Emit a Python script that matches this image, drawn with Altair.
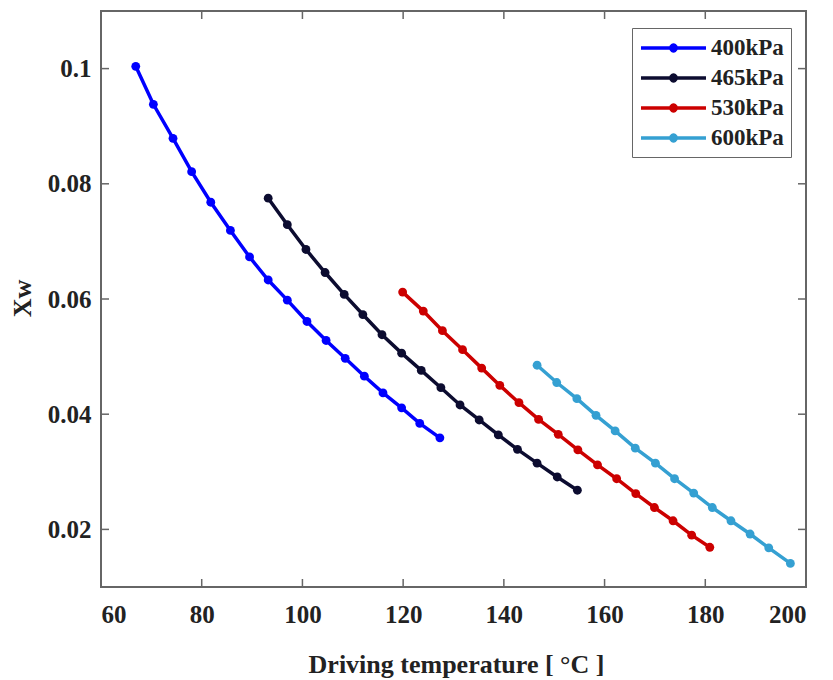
import altair as alt
import pandas as pd

# Driving temperature (°C) and Xw for each pressure level
t_400 = [66.9, 70.4, 74.3, 78.0, 81.8, 85.7, 89.5, 93.2, 97.0, 100.9, 104.7,
         108.5, 112.3, 116.0, 119.7, 123.3, 127.3]
x_400 = [0.1004, 0.0938, 0.0879, 0.0821, 0.0768, 0.0719, 0.0673, 0.0633, 0.0598,
         0.0561, 0.0528, 0.0497, 0.0466, 0.0437, 0.0411, 0.0384, 0.0359]

t_465 = [93.2, 97.0, 100.7, 104.5, 108.3, 112.0, 115.8, 119.7, 123.6, 127.5,
         131.3, 135.1, 138.9, 142.7, 146.6, 150.6, 154.6]
x_465 = [0.0775, 0.0729, 0.0686, 0.0646, 0.0608, 0.0573, 0.0538, 0.0506, 0.0476,
         0.0446, 0.0416, 0.0390, 0.0364, 0.0339, 0.0315, 0.0291, 0.0268]

t_530 = [119.9, 124.0, 127.8, 131.8, 135.6, 139.2, 143.0, 146.9, 150.8, 154.7,
         158.6, 162.4, 166.2, 169.9, 173.6, 177.3, 180.9]
x_530 = [0.0612, 0.0579, 0.0545, 0.0512, 0.0480, 0.0450, 0.0420, 0.0391, 0.0365,
         0.0338, 0.0312, 0.0288, 0.0262, 0.0238, 0.0215, 0.0190, 0.0169]

t_600 = [146.6, 150.5, 154.5, 158.3, 162.1, 166.1, 170.1, 173.9, 177.7, 181.4,
         185.1, 188.9, 192.6, 196.9]
x_600 = [0.0485, 0.0455, 0.0427, 0.0398, 0.0371, 0.0341, 0.0315, 0.0288, 0.0263,
         0.0238, 0.0215, 0.0192, 0.0168, 0.0141]

series_names = ["400kPa", "465kPa", "530kPa", "600kPa"]
series_colors = ["#0000ff", "#0c0c30", "#cc0000", "#35a0d2"]

x_ticks = [60, 80, 100, 120, 140, 160, 180, 200]
y_ticks = [0.02, 0.04, 0.06, 0.08, 0.1]

rows = []
for name, ts, xs in zip(series_names, [t_400, t_465, t_530, t_600],
                        [x_400, x_465, x_530, x_600]):
    for i, (t, v) in enumerate(zip(ts, xs)):
        rows.append({"series": name, "T": t, "Xw": v, "i": i})
df = pd.DataFrame(rows)

W, H = 705, 576
FONT = "Liberation Serif"
FRAME = "#666666"
TEXT = "#222222"
TL = 8  # inward tick length

x_scale = alt.Scale(domain=[60, 200], nice=False, zero=False)
y_scale = alt.Scale(domain=[0.01, 0.11], nice=False, zero=False)
c_scale = alt.Scale(domain=series_names, range=series_colors)

x_enc = alt.X(
    "T:Q", scale=x_scale,
    axis=alt.Axis(values=x_ticks, title="Driving temperature [ °C ]", grid=False,
                  domain=False, ticks=False, tickSize=0, labelPadding=15,
                  labelFont=FONT, labelFontSize=25, labelFontWeight="bold",
                  labelColor=TEXT, titleFont=FONT, titleFontSize=26,
                  titleFontWeight="bold", titleColor=TEXT, titleX=355, titleY=85,
                  titleAlign="center", titleBaseline="alphabetic"),
)
y_enc = alt.Y(
    "Xw:Q", scale=y_scale,
    axis=alt.Axis(values=y_ticks, format="~g", title="Xw", grid=False,
                  domain=False, ticks=False, tickSize=0, labelPadding=10,
                  labelFont=FONT, labelFontSize=25, labelFontWeight="bold",
                  labelColor=TEXT, titleFont=FONT, titleFontSize=26,
                  titleFontWeight="bold", titleColor=TEXT, titleAngle=270,
                  titleX=-71, titleY=287, titleAlign="center",
                  titleBaseline="alphabetic"),
)

# legend symbol: a 65px line segment with a dot at its middle; the path runs
# past the nominal symbol box (unit = 11px) so rows stay compact
legend = alt.Legend(
    title=None, orient="none", legendX=531, legendY=17, padding=7,
    strokeColor=FRAME, fillColor="white", cornerRadius=0, rowPadding=5,
    labelFont=FONT, labelFontSize=23, labelFontWeight="bold", labelColor=TEXT,
    labelOffset=46, labelLimit=200,
    symbolType=("M-1,0L4.909,0"
                "M1.72,0A0.236,0.236,0,1,1,2.19,0A0.236,0.236,0,1,1,1.72,0Z"),
    symbolSize=484, symbolStrokeWidth=3.5,
)

lines = alt.Chart(df).mark_line(strokeWidth=3.5).encode(
    x=x_enc, y=y_enc,
    color=alt.Color("series:N", scale=c_scale, legend=legend),
    order="i:Q",
)

points = alt.Chart(df).mark_circle(size=78, opacity=1).encode(
    x="T:Q", y="Xw:Q",
    color=alt.Color("series:N", scale=c_scale, legend=None),
)

# inward tick marks on all four sides of the frame
xt = pd.DataFrame({"v": x_ticks})
yt = pd.DataFrame({"v": y_ticks})
tick_style = dict(color=FRAME, strokeWidth=1.5)
bottom_ticks = alt.Chart(xt).mark_rule(**tick_style).encode(
    x=alt.X("v:Q", scale=x_scale), y=alt.value(H - TL), y2=alt.value(H))
top_ticks = alt.Chart(xt).mark_rule(**tick_style).encode(
    x=alt.X("v:Q", scale=x_scale), y=alt.value(0), y2=alt.value(TL))
left_ticks = alt.Chart(yt).mark_rule(**tick_style).encode(
    y=alt.Y("v:Q", scale=y_scale), x=alt.value(0), x2=alt.value(TL))
right_ticks = alt.Chart(yt).mark_rule(**tick_style).encode(
    y=alt.Y("v:Q", scale=y_scale), x=alt.value(W - TL), x2=alt.value(W))

chart = alt.layer(
    lines, points, bottom_ticks, top_ticks, left_ticks, right_ticks
).properties(
    width=W, height=H,
    padding={"left": 101, "top": 11, "right": 27, "bottom": 93},
    autosize=alt.AutoSizeParams(type="none"),
    background="white",
).configure_view(
    stroke=FRAME, strokeWidth=2,
)

chart.save("out.html", embed_options={"renderer": "svg", "actions": False})
